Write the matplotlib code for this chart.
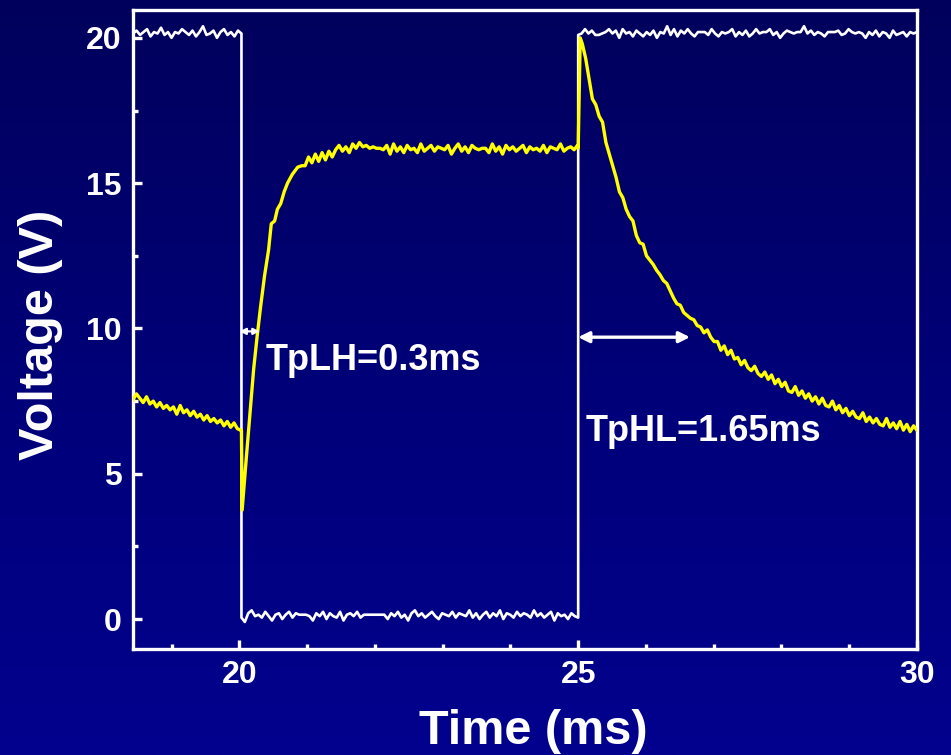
import numpy as np
import matplotlib
matplotlib.use("Agg")
import matplotlib.pyplot as plt
from matplotlib.colors import LinearSegmentedColormap

plt.rcParams['font.family'] = ['Liberation Sans', 'DejaVu Sans']
plt.rcParams['font.weight'] = 'bold'

# ---- Input pulse (white trace) ----
in_high1_t = (18.43, 20.03)
in_high1_v = [20.15, 20.25, 20.1, 20.2, 20.3, 20.05, 20.2, 20.15, 20.35, 20.1, 20.2,
              20.0, 20.2, 20.15, 20.3, 20.2, 20.1, 20.25, 20.05, 20.2, 20.4, 20.1,
              20.15, 20.25, 20.0, 20.2, 20.3, 20.1, 20.2, 20.05, 20.25, 20.15]
in_low_t = (20.03, 25.0)
in_low_v = [0.05, -0.1, 0.2, 0.3, 0.1, 0.15, 0.05, 0.25, 0.1, -0.05, 0.15, 0.2, 0.0, 0.15,
            0.25, 0.05, 0.2, 0.15, 0.15, 0.15, 0.1, -0.05, 0.2, 0.1, 0.25, 0.0, 0.2, 0.1,
            0.05, 0.25, -0.05, 0.15, 0.2, 0.1, 0.25, 0.05, 0.15, 0.15, 0.15, 0.15, 0.15,
            0.15, 0.15, 0.0, 0.2, 0.1, 0.25, 0.05, 0.15, -0.05, 0.2, 0.3, 0.1, 0.2, 0.05,
            0.15, 0.25, 0.1, 0.0, 0.2, 0.15, 0.1, 0.25, 0.05, 0.2, 0.15, 0.1, 0.3, 0.05,
            0.2, 0.0, 0.15, 0.25, 0.05, 0.2, 0.1, 0.3, 0.0, 0.2, 0.15, 0.05, 0.25, 0.1,
            0.2, 0.15, 0.05, 0.3, 0.1, 0.2, 0.05, 0.15, 0.25, -0.05, 0.2, 0.1, 0.15, 0.0,
            0.2, 0.1, 0.05]
in_high2_t = (25.0, 30.0)
in_high2_v = [20.1, 20.15, 20.3, 20.15, 20.25, 20.1, 20.1, 20.15, 20.2, 20.3, 20.15,
              20.25, 20.0, 20.3, 20.15, 20.2, 20.05, 20.25, 20.15, 20.05, 20.2, 20.1,
              20.25, 20.0, 20.2, 20.15, 20.4, 20.1, 20.3, 20.05, 20.25, 20.15, 20.3,
              20.15, 20.05, 20.2, 20.2, 20.2, 20.1, 20.3, 20.15, 20.05, 20.2, 20.15,
              20.2, 20.3, 20.05, 20.2, 20.1, 20.25, 20.05, 20.15, 20.3, 20.15, 20.2,
              20.2, 20.3, 20.1, 20.2, 20.0, 20.15, 20.25, 20.2, 20.15, 20.2, 20.2,
              20.4, 20.15, 20.25, 20.1, 20.2, 20.15, 20.05, 20.2, 20.2, 20.2, 20.25,
              20.1, 20.15, 20.3, 20.2, 20.15, 20.2, 20.15, 20.0, 20.2, 20.1, 20.25,
              20.05, 20.2, 20.15, 20.0, 20.25, 20.1, 20.15, 20.2, 20.05, 20.2, 20.15, 20.2]

# ---- Output response (yellow trace) ----
out_pre_t = (18.43, 20.02)
out_pre_v = [7.55, 7.75, 7.6, 7.45, 7.65, 7.4, 7.5, 7.3, 7.45, 7.25, 7.35, 7.2, 7.3,
             7.05, 7.35, 7.1, 7.2, 7.0, 7.15, 6.95, 7.05, 6.85, 7.0, 6.8, 6.9, 6.75,
             6.85, 6.65, 6.8, 6.6, 6.75, 6.55, 6.5]
out_rise_t = [20.03, 20.04, 20.1, 20.16, 20.21, 20.26, 20.31, 20.37, 20.43, 20.47,
              20.52, 20.56, 20.61, 20.66, 20.71, 20.78, 20.86, 20.92, 20.97, 21.02,
              21.07, 21.12, 21.17, 21.22, 21.27, 21.32, 21.37]
out_rise_v = [6.5, 3.75, 5.5, 7.2, 8.6, 9.7, 10.7, 11.8, 12.7, 13.6, 13.7, 14.1, 14.3,
              14.7, 15.0, 15.3, 15.55, 15.6, 15.6, 15.9, 15.7, 16.0, 15.75, 16.05, 15.8,
              16.1, 15.9]
out_plateau_t = (21.42, 24.99)
out_plateau_v = [16.15, 16.3, 16.1, 16.25, 16.05, 16.35, 16.2, 16.4, 16.25, 16.3, 16.2,
                 16.25, 16.2, 16.2, 16.15, 16.3, 16.0, 16.35, 16.1, 16.25, 16.05, 16.3,
                 16.15, 16.2, 16.05, 16.35, 16.1, 16.2, 16.3, 16.1, 16.25, 16.2, 16.15,
                 16.3, 16.0, 16.2, 16.35, 16.1, 16.25, 16.05, 16.3, 16.2, 16.15, 16.2,
                 16.2, 16.05, 16.35, 16.1, 16.25, 16.0, 16.3, 16.15, 16.25, 16.1, 16.2,
                 16.3, 16.05, 16.25, 16.15, 16.2, 16.1, 16.3, 16.05, 16.25, 16.2, 16.15,
                 16.35, 16.1, 16.2, 16.25, 16.15, 16.3]
out_peak_t = [25.0, 25.03]
out_peak_v = [16.2, 20.0]
out_decay_t = (25.06, 30.0)
out_decay_v = [19.8, 19.3, 18.6, 17.9, 17.7, 17.3, 17.1, 16.4, 16.0, 15.6, 15.2, 14.7,
               14.5, 14.1, 13.85, 13.7, 13.2, 12.95, 12.9, 12.5, 12.35, 12.2, 12.0, 11.85,
               11.65, 11.55, 11.3, 11.05, 10.85, 10.8, 10.55, 10.45, 10.35, 10.3, 10.1,
               10.05, 9.85, 9.95, 9.7, 9.55, 9.55, 9.25, 9.4, 9.1, 9.25, 8.95, 9.0, 8.75,
               8.9, 8.65, 8.55, 8.7, 8.45, 8.35, 8.5, 8.25, 8.4, 8.1, 8.25, 8.0, 8.15,
               7.85, 7.8, 8.0, 7.7, 7.85, 7.6, 7.75, 7.5, 7.65, 7.4, 7.6, 7.35, 7.3,
               7.5, 7.2, 7.35, 7.1, 7.25, 7.0, 7.15, 6.95, 6.9, 7.1, 6.8, 6.95, 6.75,
               6.9, 6.7, 6.65, 6.9, 6.6, 6.75, 6.55, 6.8, 6.5, 6.7, 6.45, 6.65, 6.5]

# ---- Annotations ----
tplh_start, tplh = 20.0, 0.3
tphl_start, tphl = 25.0, 1.65
tplh_level, tphl_level = 9.9, 9.7

x_ticks = [20, 25, 30]
y_ticks = [0, 5, 10, 15, 20]


def sampled(span, values):
    return np.linspace(span[0], span[1], len(values)), np.asarray(values, dtype=float)


w_segments = [sampled(in_high1_t, in_high1_v), sampled(in_low_t, in_low_v),
              sampled(in_high2_t, in_high2_v)]
w_t = np.concatenate([s[0] for s in w_segments])
w_v = np.concatenate([s[1] for s in w_segments])

pre_t, pre_v = sampled(out_pre_t, out_pre_v)
pl_t, pl_v = sampled(out_plateau_t, out_plateau_v)
dc_t, dc_v = sampled(out_decay_t, out_decay_v)
y_t = np.concatenate([pre_t, out_rise_t, pl_t, out_peak_t, dc_t])
y_v = np.concatenate([pre_v, out_rise_v, pl_v, out_peak_v, dc_v])

fig = plt.figure(figsize=(9.51, 7.55), dpi=100)

# navy gradient backdrop
bg = fig.add_axes([0, 0, 1, 1], zorder=-10)
cmap = LinearSegmentedColormap.from_list('navy', ['#00005c', '#000078', '#02028e'])
bg.imshow(np.linspace(0, 1, 256).reshape(-1, 1), aspect='auto', cmap=cmap,
          extent=[0, 1, 0, 1], origin='upper')
bg.set_axis_off()

ax = fig.add_axes([0.1399, 0.1404, 0.8243, 0.8464])
ax.patch.set_alpha(0)

ax.plot(w_t, w_v, color='white', lw=1.9, zorder=3)
ax.plot(y_t, y_v, color='#ffff00', lw=2.4, zorder=4)

ax.set_xlim(18.43, 30.0)
ax.set_ylim(-1.03, 20.96)

ax.set_xticks(x_ticks)
ax.set_yticks(y_ticks)
ax.set_xticks(np.arange(19, 30, 1), minor=True)
ax.set_yticks(np.arange(2.5, 20, 5), minor=True)

for s in ax.spines.values():
    s.set_color('white')
    s.set_linewidth(2.4)

ax.tick_params(which='both', direction='in', colors='white', top=False, right=False,
               width=2.4)
ax.tick_params(which='major', length=6.5, labelsize=23, pad=8)
ax.tick_params(which='minor', length=3.5)
for lab in ax.get_xticklabels() + ax.get_yticklabels():
    lab.set_fontweight('bold')

ax.set_xlabel('Time (ms)', fontsize=35, fontweight='bold', color='white')
ax.set_ylabel('Voltage (V)', fontsize=35, fontweight='bold', color='white')
ax.xaxis.set_label_coords(0.51, -0.094)
ax.yaxis.set_label_coords(-0.089, 0.492)

ax.annotate('', xy=(tplh_start, tplh_level), xytext=(tplh_start + tplh, tplh_level),
            arrowprops=dict(arrowstyle='<|-|>', color='white', lw=1.6,
                            mutation_scale=9, shrinkA=0, shrinkB=0), zorder=5)
ax.annotate('', xy=(tphl_start, tphl_level), xytext=(tphl_start + tphl, tphl_level),
            arrowprops=dict(arrowstyle='<|-|>', color='white', lw=2.4,
                            mutation_scale=16, shrinkA=0, shrinkB=0), zorder=5)

ax.text(20.38, 8.9, f'TpLH={tplh}ms', color='white', fontsize=26, fontweight='bold',
        ha='left', va='center', zorder=6)
ax.text(25.11, 6.44, f'TpHL={tphl}ms', color='white', fontsize=26, fontweight='bold',
        ha='left', va='center', zorder=6)

fig.savefig('out.png', dpi=100)
